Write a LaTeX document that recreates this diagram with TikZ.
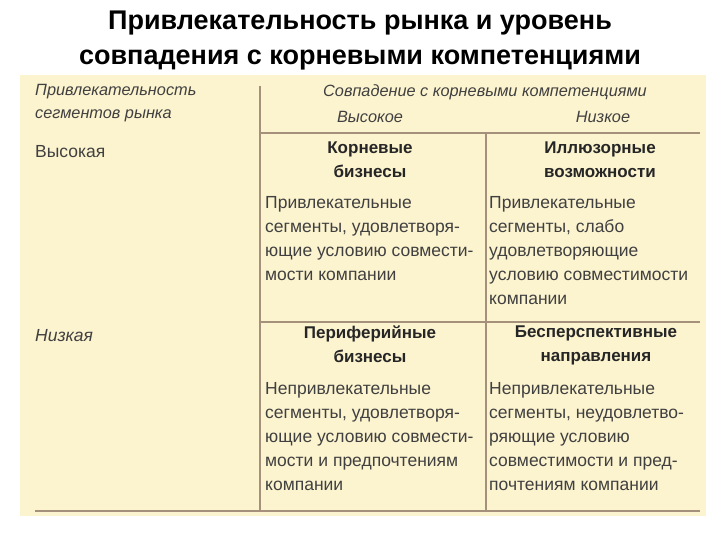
\documentclass[tikz,border=0pt]{standalone}
\usepackage{fontspec}
\setmainfont{Liberation Sans}
\begin{document}
\begin{tikzpicture}[x=1pt,y=-1pt,
  txt/.style={text=black!75,font=\fontsize{17.5}{24}\selectfont,inner sep=0pt},
  body/.style={txt,anchor=north west,align=left},
  ttl/.style={txt,font=\fontsize{17}{24}\selectfont\bfseries,align=center,anchor=north,text=black!85},
  hdr/.style={txt,font=\fontsize{16.3}{23}\selectfont\itshape},
  rule/.style={draw=black!45!brown!60,line width=1.2pt}]
\useasboundingbox (0,0) rectangle (720,540);
\fill[fill={rgb,255:red,252;green,243;blue,207}] (20,75) rectangle (706,516);
\node[font=\fontsize{27}{35}\selectfont\bfseries,align=center,anchor=north,inner sep=0pt] (title) at (360,11) {Привлекательность рынка и уровень\\совпадения с корневыми компетенциями};
\coordinate (v1t) at (260,86); \coordinate (v1b) at (260,510);
\coordinate (h1l) at (260,133); \coordinate (h1r) at (700,133);
\coordinate (v2t) at (486,133); \coordinate (v2b) at (486,510);
\coordinate (h2l) at (260,322); \coordinate (h2r) at (700,322);
\coordinate (h3l) at (35,511); \coordinate (h3r) at (700,511);
\draw[rule] (v1t)--(v1b); \draw[rule] (h1l)--(h1r); \draw[rule] (v2t)--(v2b);
\draw[rule] (h2l)--(h2r); \draw[rule] (h3l)--(h3r);
\node[hdr,anchor=north west,align=left] (attr) at (35,84) {Привлекательность\\сегментов рынка};
\node[hdr,anchor=north] (sovp) at (485,84) {Совпадение с корневыми компетенциями};
\node[hdr] (vys) at (370,117) {Высокое};
\node[hdr] (niz) at (603,117) {Низкое};
\node[txt,anchor=west] (hi) at (35,152) {Высокая};
\node[txt,anchor=west,font=\fontsize{17.5}{24}\selectfont\itshape] (lo) at (35,336) {Низкая};
\node[ttl] (t1) at (370,142) {Корневые\\бизнесы};
\node[ttl] (t2) at (600,142) {Иллюзорные\\возможности};
\node[ttl] (t3) at (370,326) {Периферийные\\бизнесы};
\node[ttl] (t4) at (596,326) {Бесперспективные\\направления};
\node[body] (b1) at (265,196) {Привлекательные\\сегменты, удовлетворя-\\ющие условию совмести-\\мости компании};
\node[body] (b2) at (489,196) {Привлекательные\\сегменты, слабо\\удовлетворяющие\\условию совместимости\\компании};
\node[body] (b3) at (265,382) {Непривлекательные\\сегменты, удовлетворя-\\ющие условию совмести-\\мости и предпочтениям\\компании};
\node[body] (b4) at (489,382) {Непривлекательные\\сегменты, неудовлетво-\\ряющие условию\\совместимости и пред-\\почтениям компании};
\end{tikzpicture}
\end{document}
